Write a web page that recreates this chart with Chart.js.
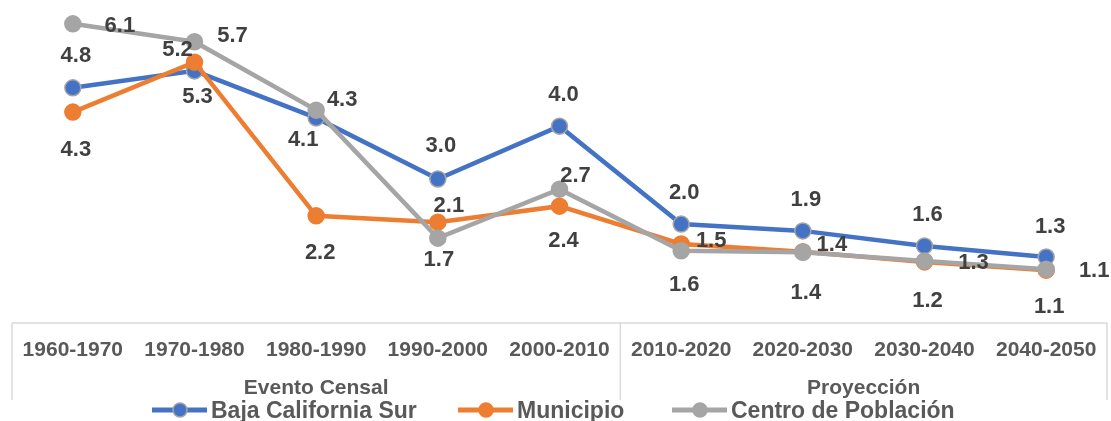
<!DOCTYPE html>
<html lang="es">
<head>
<meta charset="utf-8">
<title>Tasa de crecimiento</title>
<script src="https://cdn.jsdelivr.net/npm/chart.js@4.4.1/dist/chart.umd.min.js"></script>
<style>
    html, body { margin:0; padding:0; background:#fff; }
    #wrap { position:relative; width:1111px; height:421px; }
</style>
</head>
<body>
<div id="wrap"><canvas id="growthChart"></canvas></div>
<script>
// Data
const periods = ['1960-1970', '1970-1980', '1980-1990', '1990-2000', '2000-2010', '2010-2020', '2020-2030', '2030-2040', '2040-2050'];
const groups = ['Evento Censal', 'Proyección'];
const groupSizes = [5, 4];

const bcsValues = [4.85, 5.20, 4.23, 2.97, 4.06, 2.04, 1.90, 1.59, 1.36];
const municipioValues = [4.35, 5.38, 2.21, 2.08, 2.41, 1.63, 1.47, 1.26, 1.09];
const centroValues = [6.17, 5.80, 4.39, 1.75, 2.76, 1.49, 1.46, 1.28, 1.11];

// printed data labels
const bcsLabels = ['4.8', '5.3', '4.1', '3.0', '4.0', '2.0', '1.9', '1.6', '1.3'];
const municipioLabels = ['4.3', '5.2', '2.2', '2.1', '2.4', '1.6', '1.4', '1.2', '1.1'];
const centroLabels = ['6.1', '5.7', '4.3', '1.7', '2.7', '1.5', '1.4', '1.3', '1.1'];

// where each label sits relative to its point (dx, dy)
const labelOffsets = {
    0: [[3,-33],[3,25],[-13,21],[3,-34],[4,-32],[3,-32],[3,-32],[3,-32],[4,-31]],
    1: [[3,37],[-17,-13],[4,36],[11,-17],[4,34],[3,40],[3,40],[3,38],[3,36]],
    2: [[47,1],[38,-7],[26,-11],[1,21],[16,-14],[30,-11],[29,-8],[49,1],[48,1]]
};

const FONT = '"Liberation Sans", Arial, sans-serif';
const GRID = '#d9d9d9';

const series = [
    { label: 'Baja California Sur', data: bcsValues, color: '#4472c4', ring: '#a5a5a5', texts: bcsLabels, order: 2 },
    { label: 'Municipio', data: municipioValues, color: '#ed7d31', ring: '#ed7d31', texts: municipioLabels, order: 1 },
    { label: 'Centro de Población', data: centroValues, color: '#a5a5a5', ring: '#a5a5a5', texts: centroLabels, order: 0 }
];

// Axis box, categories, groups, legend and value labels
const decorPlugin = {
    id: 'decor',
    afterDatasetsDraw(chart) {
        const ctx = chart.ctx;
        const xs = chart.scales.x;
        const area = chart.chartArea;
        const axisY = area.bottom;
        const boxBottom = 400;

        ctx.save();
        // value labels
        ctx.font = 'bold 22px ' + FONT;
        ctx.fillStyle = '#404040';
        ctx.textAlign = 'center';
        ctx.textBaseline = 'middle';
        series.forEach((s, di) => {
            const meta = chart.getDatasetMeta(di);
            meta.data.forEach((pt, i) => {
                const off = labelOffsets[di][i];
                ctx.fillText(s.texts[i], pt.x + off[0], pt.y + off[1] + 1);
            });
        });

        // axis line + group separators
        ctx.strokeStyle = GRID;
        ctx.lineWidth = 1.5;
        ctx.beginPath();
        ctx.moveTo(area.left, axisY); ctx.lineTo(area.right, axisY);
        ctx.moveTo(area.left, axisY); ctx.lineTo(area.left, boxBottom);
        ctx.moveTo(area.right, axisY); ctx.lineTo(area.right, boxBottom);
        let idx = 0;
        const step = (area.right - area.left) / periods.length;
        groupSizes.forEach((n, g) => {
            idx += n;
            if (g < groupSizes.length - 1) {
                const sx = xs.getPixelForValue(idx - 1) + step / 2;
                ctx.moveTo(sx, axisY); ctx.lineTo(sx, boxBottom);
            }
        });
        ctx.stroke();

        // category labels
        ctx.fillStyle = '#595959';
        ctx.textBaseline = 'alphabetic';
        ctx.font = 'bold 21px ' + FONT;
        periods.forEach((p, i) => ctx.fillText(p, xs.getPixelForValue(i), 356));

        // group labels
        let start = 0;
        groups.forEach((g, gi) => {
            const end = start + groupSizes[gi] - 1;
            const cx = (xs.getPixelForValue(start) + xs.getPixelForValue(end)) / 2;
            ctx.fillText(g, cx, 394);
            start = end + 1;
        });

        // legend
        const legendX = [152, 458, 672];
        ctx.font = 'bold 23px ' + FONT;
        ctx.textAlign = 'left';
        series.forEach((s, i) => {
            const lx = legendX[i], ly = 410;
            ctx.strokeStyle = s.color;
            ctx.lineWidth = 5;
            ctx.beginPath(); ctx.moveTo(lx, ly); ctx.lineTo(lx + 55, ly); ctx.stroke();
            ctx.beginPath(); ctx.arc(lx + 28, ly, 7, 0, Math.PI * 2);
            ctx.fillStyle = s.color; ctx.fill();
            ctx.lineWidth = 1.5; ctx.strokeStyle = s.ring; ctx.stroke();
            ctx.fillStyle = '#595959';
            ctx.fillText(s.label, lx + 59, 418);
        });
        ctx.restore();
    }
};

new Chart(document.getElementById('growthChart'), {
    type: 'line',
    data: {
        labels: periods,
        datasets: series.map(s => ({
            label: s.label,
            data: s.data,
            order: s.order,
            borderColor: s.color,
            backgroundColor: s.color,
            borderWidth: 4.5,
            pointRadius: 8,
            pointBorderWidth: 1.5,
            pointBorderColor: s.ring,
            pointBackgroundColor: s.color,
            tension: 0,
            clip: false
        }))
    },
    options: {
        responsive: true,
        maintainAspectRatio: false,
        animation: false,
        layout: { autoPadding: false, padding: { left: 12, right: 4, top: 3, bottom: 98 } },
        plugins: { legend: { display: false }, tooltip: { enabled: false } },
        scales: {
            x: { type: 'category', offset: true, display: false },
            y: { display: false, min: 0, max: 6.6 }
        }
    },
    plugins: [decorPlugin]
});
</script>
</body>
</html>
